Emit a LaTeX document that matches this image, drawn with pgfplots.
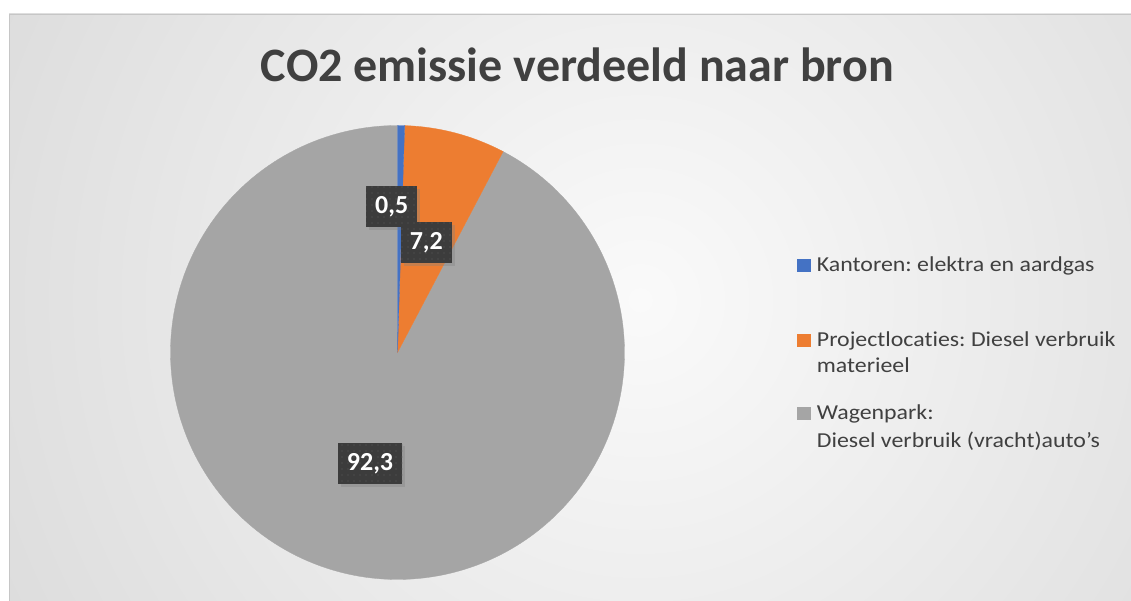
\documentclass[border=0pt]{standalone}
\usepackage{fontspec}
\setmainfont{Carlito}[Ligatures=NoCommon]
\newfontfamily\legfont{Carlito}[Ligatures=NoCommon, FakeStretch=1.12]
\usepackage{pgfplots}
\pgfplotsset{compat=1.18}
\usetikzlibrary{shadows,patterns.meta}
\frenchspacing
\definecolor{sliceBlue}{HTML}{4472C4}
\definecolor{sliceOrange}{HTML}{ED7D31}
\definecolor{sliceGray}{HTML}{A5A5A5}
\definecolor{titleGray}{HTML}{404040}
\definecolor{legGray}{HTML}{404040}
\definecolor{bgIn}{HTML}{FAFAFA}
\definecolor{bgOut}{HTML}{C0C0C0}
\definecolor{boxDark}{HTML}{3C3C3C}
\definecolor{boxDot}{HTML}{4C4C4C}
\tikzset{lab/.style={fill=boxDark, text=white, font=\fontsize{26}{30}\selectfont\bfseries,
  minimum height=41pt, inner xsep=9pt, inner ysep=0pt,
  drop shadow={shadow xshift=3pt, shadow yshift=-3pt, opacity=0.35},
  postaction={pattern={Dots[distance=6pt,radius=0.9pt]}, pattern color=boxDot}}}
\begin{document}
\frenchspacing
\begin{tikzpicture}
\useasboundingbox (0,0) rectangle (1131pt,601pt);
\fill[white] (0,0) rectangle (1131pt,601pt);
\begin{scope}
\clip (9pt,0pt) rectangle (1131pt,587pt);
\shade[inner color=bgIn, outer color=bgOut] (640pt,301pt) circle (1400pt);
\end{scope}
\draw[gray!45, line width=0.8pt] (9.4pt,0) -- (9.4pt,586.6pt) -- (1131pt,586.6pt);
\begin{axis}[
  at={(0,0)}, anchor=south west,
  x=1pt, y=1pt, xmin=0, xmax=1131, ymin=0, ymax=601,
  hide axis, clip=false, scale only axis
]
% values (percent): 0.5, 7.2, 92.3 ; start at 90 deg, clockwise
\addplot[draw=sliceGray, line width=0.3pt, fill=sliceGray, domain={-270}:{90-3.6*(0.5+7.2)}, samples=200]
  ({397.5+227*cos(x)}, {248.5+227*sin(x)}) -- (axis cs:397.5,248.5) -- cycle;
\addplot[draw=sliceOrange, line width=0.3pt, fill=sliceOrange, domain={90-3.6*(0.5+7.2)}:{90-3.6*0.5}, samples=40]
  ({397.5+227*cos(x)}, {248.5+227*sin(x)}) -- (axis cs:397.5,248.5) -- cycle;
\addplot[draw=sliceBlue, line width=0.3pt, fill=sliceBlue, domain={90-3.6*0.5}:90, samples=6]
  ({397.5+227*cos(x)}, {248.5+227*sin(x)}) -- (axis cs:397.5,248.5) -- cycle;

\node[lab, minimum width=51pt] at (axis cs:391.7,394.1) {0,5};
\node[lab, minimum width=51pt] at (axis cs:426.3,358) {7,2};
\node[lab, minimum width=63pt] at (axis cs:370,137.7) {92,3};

\node[anchor=base, inner sep=0pt, text=titleGray, font=\fontsize{48}{56}\selectfont\bfseries]
  at (axis cs:577.5,519.3) {CO2 emissie verdeeld naar bron};

\fill[sliceBlue] (axis cs:796.7,328.7) rectangle (axis cs:811,342);
\fill[sliceOrange] (axis cs:796.7,254.3) rectangle (axis cs:811,267);
\fill[sliceGray] (axis cs:796.7,181) rectangle (axis cs:811,194.3);
\begin{scope}[every node/.style={anchor=base west, inner sep=0pt, text=legGray, font=\legfont\fontsize{21.3}{26}\selectfont\frenchspacing}]
\node at (axis cs:816.7,329) {Kantoren: elektra en aardgas};
\node at (axis cs:816.7,254.3) {Projectlocaties: Diesel verbruik};
\node at (axis cs:816.7,228) {materieel};
\node at (axis cs:816.7,181) {Wagenpark:};
\node at (axis cs:816.7,153) {Diesel verbruik (vracht)auto’s};
\end{scope}
\end{axis}
\end{tikzpicture}
\end{document}
